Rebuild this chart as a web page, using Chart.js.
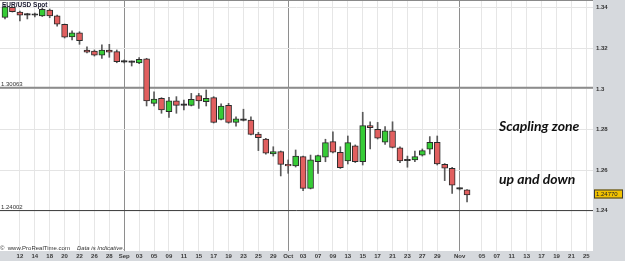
<!DOCTYPE html>
<html><head><meta charset="utf-8">
<script src="https://cdn.jsdelivr.net/npm/chart.js@4/dist/chart.umd.min.js"></script>
<style>html,body{margin:0;padding:0;background:#fff;overflow:hidden}canvas{display:block}</style>
</head><body>
<canvas id="c" width="625" height="261"></canvas>
<script>
// EUR/USD Spot, daily candles, 8 Aug 2014 - 4 Nov 2014
const dates = ['Aug 08','Aug 11','Aug 12','Aug 13','Aug 14','Aug 15','Aug 18','Aug 19','Aug 20','Aug 21','Aug 22',
  'Aug 25','Aug 26','Aug 27','Aug 28','Aug 29','Sep 01','Sep 02','Sep 03','Sep 04','Sep 05','Sep 08','Sep 09','Sep 10',
  'Sep 11','Sep 12','Sep 15','Sep 16','Sep 17','Sep 18','Sep 19','Sep 22','Sep 23','Sep 24','Sep 25','Sep 26','Sep 29',
  'Sep 30','Oct 01','Oct 02','Oct 03','Oct 06','Oct 07','Oct 08','Oct 09','Oct 10','Oct 13','Oct 14','Oct 15','Oct 16',
  'Oct 17','Oct 20','Oct 21','Oct 22','Oct 23','Oct 24','Oct 27','Oct 28','Oct 29','Oct 30','Oct 31','Nov 03','Nov 04'];
const open  = [1.3353,1.3402,1.3379,1.3365,1.3364,1.3360,1.3389,1.3360,1.3319,1.3257,1.3277,
  1.3192,1.3187,1.3167,1.3192,1.3184,1.3133,1.3133,1.3128,1.3148,1.2929,1.2954,1.2888,1.2941,
  1.2920,1.2919,1.2967,1.2937,1.2957,1.2850,1.2919,1.2835,1.2846,1.2847,1.2778,1.2753,1.2679,
  1.2691,1.2628,1.2620,1.2666,1.2510,1.2641,1.2663,1.2740,1.2688,1.2645,1.2720,1.2641,1.2819,
  1.2801,1.2737,1.2793,1.2710,1.2647,1.2650,1.2674,1.2703,1.2737,1.2628,1.2609,1.2507,1.2502];
const high  = [1.3411,1.3404,1.3384,1.3373,1.3374,1.3399,1.3394,1.3364,1.3320,1.3286,1.3282,
  1.3208,1.3192,1.3217,1.3220,1.3192,1.3143,1.3138,1.3154,1.3151,1.2986,1.2957,1.2959,1.2962,
  1.2945,1.2978,1.2978,1.2995,1.2962,1.2926,1.2929,1.2863,1.2900,1.2862,1.2786,1.2756,1.2715,
  1.2694,1.2650,1.2699,1.2669,1.2674,1.2674,1.2752,1.2789,1.2715,1.2768,1.2724,1.2885,1.2838,
  1.2835,1.2814,1.2838,1.2714,1.2669,1.2694,1.2704,1.2765,1.2768,1.2632,1.2613,1.2512,1.2504];
const low   = [1.3345,1.3379,1.3335,1.3345,1.3355,1.3357,1.3351,1.3310,1.3251,1.3241,1.3220,
  1.3177,1.3162,1.3151,1.3156,1.3129,1.3128,1.3113,1.3125,1.2916,1.2916,1.2880,1.2860,1.2880,
  1.2896,1.2916,1.2904,1.2916,1.2832,1.2847,1.2831,1.2817,1.2842,1.2773,1.2696,1.2678,1.2669,
  1.2571,1.2584,1.2615,1.2498,1.2507,1.2584,1.2641,1.2684,1.2608,1.2630,1.2637,1.2625,1.2704,
  1.2753,1.2727,1.2709,1.2636,1.2614,1.2641,1.2669,1.2679,1.2625,1.2548,1.2485,1.2502,1.2443];
const close = [1.3405,1.3381,1.3364,1.3364,1.3363,1.3393,1.3360,1.3319,1.3255,1.3277,1.3238,
  1.3181,1.3167,1.3192,1.3181,1.3134,1.3132,1.3131,1.3146,1.2941,1.2950,1.2896,1.2941,1.2919,
  1.2919,1.2949,1.2941,1.2954,1.2835,1.2916,1.2835,1.2852,1.2845,1.2776,1.2760,1.2683,1.2691,
  1.2628,1.2620,1.2669,1.2510,1.2650,1.2671,1.2735,1.2688,1.2612,1.2735,1.2641,1.2819,1.2809,
  1.2757,1.2794,1.2712,1.2645,1.2646,1.2666,1.2696,1.2737,1.2630,1.2609,1.2526,1.2506,1.2477];

// axis ticks (x: trading-day index incl. projected empty days)
const yTicks = [1.24, 1.26, 1.28, 1.30, 1.32, 1.34];
const xTickIdx  = [2,4,6,8,10,12,14,16,18,20,22,24,26,28,30,32,34,36,38,40,42,44,46,48,50,52,54,56,58,61,64,66,68,70,72,74,76,78];
const xTickText = ['12','14','18','20','22','26','28','Sep','03','05','09','11','15','17','19','23','25','29',
  'Oct','03','07','09','13','15','17','21','23','27','29','Nov','05','07','11','13','17','19','21','25'];
const xRange = [-0.67, 78.9];
const yRange = [1.2201, 1.34384];

// horizontal levels
const levels = [1.30063, 1.24002];
const levelText = ['1.30063', '1.24002'];
const lastPriceText = '1.24770';
const titleText = 'EUR/USD Spot';
const noteText = ['Scapling zone', 'up and down'];

const idx = dates.map((d, i) => i);
const isMonth = t => isNaN(Number(t));

function bodyColor(i) {
  const d = close[i] - open[i];
  if (Math.abs(d) < 0.00025) return '#1e1e1e';
  return d > 0 ? '#36cc36' : '#e15f5f';
}

const deco = {
  id: 'deco',
  beforeDraw(chart) {
    const {ctx, chartArea: a, width, height} = chart;
    ctx.save();
    ctx.fillStyle = '#d6d9dd';
    ctx.fillRect(0, 0, width, height);
    ctx.fillStyle = '#ffffff';
    ctx.fillRect(a.left, a.top, a.right - a.left, a.bottom - a.top);
    ctx.restore();
  },
  afterDraw(chart) {
    const {ctx, chartArea: a, scales: {y}} = chart;
    ctx.save();
    ctx.fillStyle = '#8a8a8a';
    ctx.fillRect(a.left, a.top, a.right - a.left, 1);

    ctx.textAlign = 'left';
    ctx.textBaseline = 'middle';
    ctx.fillStyle = '#1a1a30';
    ctx.font = 'bold 6.5px "Liberation Sans"';
    ctx.fillText(titleText, 2, 5);

    ctx.textBaseline = 'alphabetic';
    ctx.fillStyle = '#333';
    ctx.font = '6px "Liberation Sans"';
    levels.forEach((v, i) => ctx.fillText(levelText[i], 1, y.getPixelForValue(v) - 1.5));

    ctx.fillText('\u00A9  www.ProRealTime.com', 0, a.bottom - 1);
    ctx.font = 'italic 6px "Liberation Sans"';
    ctx.fillText('Data is Indicative.', 77, a.bottom - 1);

    ctx.fillStyle = '#111';
    ctx.font = 'italic bold 14px Lato';
    ctx.fillText(noteText[0], 499, 131);
    ctx.fillText(noteText[1], 499, 183.5);

    const py = Math.round(y.getPixelForValue(close[close.length - 1]) - 1);
    ctx.fillStyle = '#f2c200';
    ctx.fillRect(a.right + 1, py - 4.5, 29, 9);
    ctx.strokeStyle = '#3a3a3a';
    ctx.lineWidth = 1;
    ctx.strokeRect(a.right + 1.5, py - 4, 28, 8);
    ctx.fillStyle = '#222';
    ctx.font = '6px "Liberation Sans"';
    ctx.textBaseline = 'middle';
    ctx.fillText(lastPriceText, a.right + 3, py + 0.5);
    ctx.restore();
  }
};

new Chart(document.getElementById('c'), {
  type: 'bar',
  data: {
    datasets: [
      {
        label: 'body',
        data: idx.map(i => ({x: i, y: [open[i], close[i]]})),
        grouped: false,
        barThickness: 6,
        maxBarThickness: 6,
        minBarLength: 1.5,
        backgroundColor: c => bodyColor(c.dataIndex),
        borderColor: '#2b2b2b',
        borderWidth: 1,
        borderSkipped: false,
        order: 0
      },
      {
        label: 'wick',
        data: idx.map(i => ({x: i, y: [low[i], high[i]]})),
        grouped: false,
        barThickness: 1,
        maxBarThickness: 1,
        backgroundColor: '#5a5a5a',
        borderWidth: 0,
        order: 1
      },
      {
        type: 'line',
        label: 'lvl1',
        data: [{x: xRange[0], y: levels[0]}, {x: xRange[1], y: levels[0]}],
        borderColor: '#8c8c8c',
        borderWidth: 2,
        pointRadius: 0,
        order: 2
      },
      {
        type: 'line',
        label: 'lvl2',
        data: [{x: xRange[0], y: levels[1]}, {x: xRange[1], y: levels[1]}],
        borderColor: '#3a3a3a',
        borderWidth: 1,
        pointRadius: 0,
        order: 3
      }
    ]
  },
  options: {
    animation: false,
    responsive: false,
    devicePixelRatio: 1,
    layout: {padding: 0},
    plugins: {legend: {display: false}, tooltip: {enabled: false}, title: {display: false}},
    scales: {
      x: {
        type: 'linear',
        min: xRange[0],
        max: xRange[1],
        offset: false,
        border: {display: false},
        grid: {
          offset: false,
          drawTicks: false,
          lineWidth: 1,
          color: c => (c.tick && isMonth(xTickText[c.index])) ? '#8e8e8e' : '#e6e6e6'
        },
        afterBuildTicks: s => { s.ticks = xTickIdx.map(v => ({value: v})); },
        afterFit: s => { s.height = 10; s.paddingLeft = 0; s.paddingRight = 0; },
        ticks: {
          autoSkip: false,
          maxRotation: 0,
          padding: 2,
          color: '#3a3a3a',
          font: c => ({family: '"Liberation Sans"', size: 6, weight: 'bold'}),
          callback: (v, i) => xTickText[i]
        }
      },
      y: {
        type: 'linear',
        position: 'right',
        min: yRange[0],
        max: yRange[1],
        beginAtZero: false,
        border: {display: false},
        grid: {drawTicks: false, color: '#e4e4e4', lineWidth: 1},
        afterBuildTicks: s => { s.ticks = yTicks.map(v => ({value: v})); },
        afterFit: s => { s.width = 32; s.paddingTop = 0; s.paddingBottom = 0; },
        ticks: {
          padding: 3,
          color: '#333',
          font: {family: '"Liberation Sans"', size: 6, weight: 'bold'},
          callback: v => String(Math.round(v * 100) / 100)
        }
      }
    }
  },
  plugins: [deco]
});
</script>
</body></html>
